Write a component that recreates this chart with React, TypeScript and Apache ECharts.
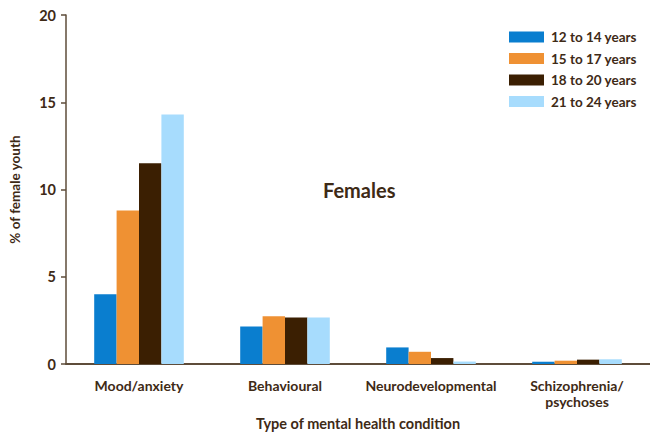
import React, { useEffect, useRef } from "react";
import * as echarts from "echarts";

const categories = ["Mood/anxiety", "Behavioural", "Neurodevelopmental", "Schizophrenia/\npsychoses"];
const seriesNames = ["12 to 14 years", "15 to 17 years", "18 to 20 years", "21 to 24 years"];
const age12to14 = [4.0, 2.15, 0.95, 0.13];
const age15to17 = [8.8, 2.73, 0.7, 0.19];
const age18to20 = [11.5, 2.67, 0.34, 0.25];
const age21to24 = [14.3, 2.67, 0.14, 0.27];
const yTicks = { min: 0, max: 20, interval: 5 };

const colors = ["#0a7ecf", "#ef9133", "#3b1f02", "#a7dcfd"];
const textColor = "#3e2a16";
const axisColor = "#5e4c3a";
const font = "Lato, 'Open Sans', sans-serif";

export default function App() {
  const ref = useRef<HTMLDivElement>(null);
  useEffect(() => {
    if (!ref.current) return;
    document.body.style.margin = "0";
    document.documentElement.style.overflow = "hidden";
    const chart = echarts.init(ref.current, undefined, { renderer: "svg" });
    const data = [age12to14, age15to17, age18to20, age21to24];
    chart.setOption({
      animation: false,
      textStyle: { fontFamily: font, color: textColor },
      grid: { left: 63, top: 15, bottom: 69, right: -5, containLabel: false },
      legend: {
        orient: "vertical",
        left: 504,
        top: 25,
        itemWidth: 35,
        itemHeight: 11,
        itemGap: 7.5,
        icon: "rect",
        textStyle: { fontSize: 13.5, fontWeight: "bold", color: textColor, fontFamily: font, padding: [0, 0, 0, 2] },
        data: seriesNames,
      },
      graphic: [
        {
          type: "text",
          left: 323,
          top: 180,
          style: { text: "Females", font: `bold 20px ${font}`, fill: textColor },
        },
      ],
      xAxis: {
        type: "category",
        data: categories,
        name: "Type of mental health condition",
        nameLocation: "middle",
        nameGap: 52,
        nameTextStyle: { fontSize: 14.5, fontWeight: "bold", color: textColor, fontFamily: font },
        axisLine: { lineStyle: { color: axisColor, width: 2 } },
        axisTick: { alignWithLabel: true, length: 6, lineStyle: { color: axisColor, width: 1 } },
        axisLabel: { fontSize: 14, fontWeight: "bold", color: textColor, margin: 13, lineHeight: 16.5, fontFamily: font, interval: 0 },
      },
      yAxis: {
        type: "value",
        min: yTicks.min,
        max: yTicks.max,
        interval: yTicks.interval,
        name: "% of female youth",
        nameLocation: "middle",
        nameGap: 44,
        nameRotate: 90,
        nameTextStyle: { fontSize: 13.5, fontWeight: "bold", color: textColor, fontFamily: font },
        splitLine: { show: false },
        axisLine: { show: true, lineStyle: { color: axisColor, width: 1.5 } },
        axisTick: { show: true, length: 5, lineStyle: { color: axisColor, width: 1.5 } },
        axisLabel: { fontSize: 14.5, fontWeight: "bold", color: textColor, margin: 10, fontFamily: font },
      },
      series: seriesNames.map((name, i) => ({
        name,
        type: "bar",
        data: data[i],
        barWidth: 22.4,
        barGap: "0%",
        itemStyle: { color: colors[i] },
      })),
    });
    return () => chart.dispose();
  }, []);
  return <div ref={ref} style={{ width: 650, height: 436, position: "absolute", left: 0, top: 0 }} />;
}
